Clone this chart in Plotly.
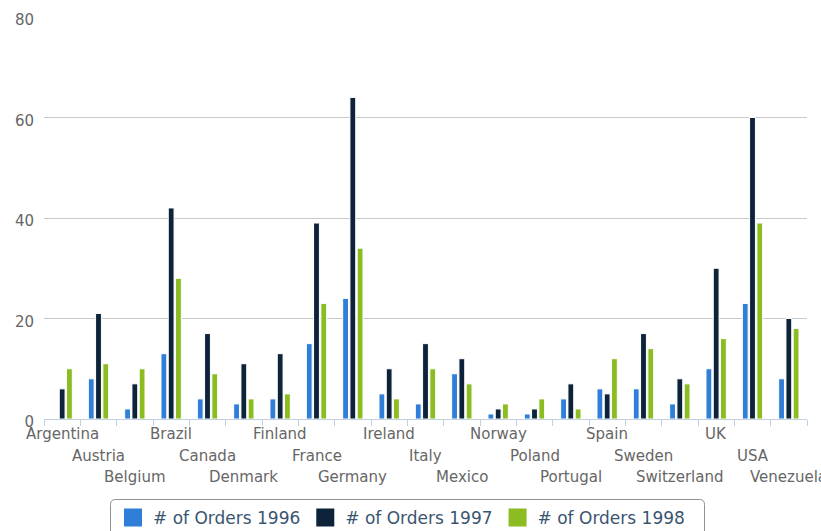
import plotly.graph_objects as go

# Orders per country and year
countries = ["Argentina", "Austria", "Belgium", "Brazil", "Canada", "Denmark",
             "Finland", "France", "Germany", "Ireland", "Italy", "Mexico",
             "Norway", "Poland", "Portugal", "Spain", "Sweden", "Switzerland",
             "UK", "USA", "Venezuela"]
orders_1996 = [0, 8, 2, 13, 4, 3, 4, 15, 24, 5, 3, 9, 1, 1, 4, 6, 6, 3, 10, 23, 8]
orders_1997 = [6, 21, 7, 42, 17, 11, 13, 39, 64, 10, 15, 12, 2, 2, 7, 5, 17, 8, 30, 60, 20]
orders_1998 = [10, 11, 10, 28, 9, 4, 5, 23, 34, 4, 10, 7, 3, 4, 2, 12, 14, 7, 16, 39, 18]
series_names = ["# of Orders 1996", "# of Orders 1997", "# of Orders 1998"]
y_ticks = [0, 20, 40, 60, 80]

colors = ["#2f7ed8", "#0d233a", "#8bbc21"]
FONT = "DejaVu Sans"

W, H = 821, 531
L, R, T, B = 44, 14, 17, 112
plot_w = W - L - R
plot_h = H - T - B


def px_x(px):
    return (px - L) / plot_w


def px_y(py):
    return (H - B - py) / plot_h


fig = go.Figure()
for name, vals, col in zip(series_names, [orders_1996, orders_1997, orders_1998], colors):
    fig.add_trace(go.Bar(
        x=countries, y=vals, name=name, showlegend=False,
        marker=dict(color=col, line=dict(color="#ffffff", width=1)),
    ))
    # legend entry with a larger square swatch
    fig.add_trace(go.Scatter(
        x=[countries[0]], y=[None], mode="markers", name=name,
        marker=dict(symbol="square", size=16, color=col,
                    line=dict(color=col, width=2)),
    ))

# staggered category labels (three rows)
row_shift = [-15, -37, -58]
annotations = []
for i, c in enumerate(countries):
    annotations.append(dict(
        x=c, xref="x", y=0, yref="paper", yanchor="middle", xanchor="center",
        yshift=row_shift[i % 3], text=c, showarrow=False,
        font=dict(family=FONT, size=15, color="#666666"),
    ))

# rounded legend frame
x0, x1 = px_x(110.5), px_x(704.5)
y0, y1 = px_y(499.5), px_y(548)
rx, ry = 5 / plot_w, 5 / plot_h
frame = (f"M{x0 + rx},{y0} L{x1 - rx},{y0} Q{x1},{y0} {x1},{y0 - ry} "
         f"L{x1},{y1 + ry} Q{x1},{y1} {x1 - rx},{y1} L{x0 + rx},{y1} "
         f"Q{x0},{y1} {x0},{y1 + ry} L{x0},{y0 - ry} Q{x0},{y0} {x0 + rx},{y0} Z")

fig.update_layout(
    width=W, height=H,
    margin=dict(l=L, r=R, t=T, b=B, autoexpand=False),
    paper_bgcolor="#ffffff", plot_bgcolor="#ffffff",
    barmode="group", bargap=0.4, bargroupgap=0.2,
    font=dict(family=FONT, color="#666666"),
    xaxis=dict(
        type="category", categoryarray=countries, categoryorder="array",
        range=[-0.5, len(countries) - 0.5],
        showticklabels=False, showgrid=False,
        ticks="outside", tickson="boundaries", ticklen=6,
        tickcolor="#C0D0E0", tickwidth=1,
        showline=True, linecolor="#C0D0E0", linewidth=1,
        fixedrange=True,
    ),
    yaxis=dict(
        range=[0, 80], tickvals=y_ticks, showgrid=True, gridcolor="#C8C8C8",
        gridwidth=1, zeroline=False, ticks="outside", ticklen=6,
        tickcolor="rgba(0,0,0,0)", ticklabelshift=3,
        tickfont=dict(family=FONT, size=15, color="#666666"),
        fixedrange=True,
    ),
    legend=dict(
        orientation="h", x=px_x(113), xanchor="left", y=px_y(518),
        yanchor="middle", font=dict(family=FONT, size=17, color="#3a5570"),
        bgcolor="rgba(0,0,0,0)", borderwidth=0,
    ),
    annotations=annotations,
    shapes=[dict(type="path", path=frame, xref="paper", yref="paper",
                 line=dict(color="#909090", width=1), layer="above")],
)

fig.write_html("out.html")
